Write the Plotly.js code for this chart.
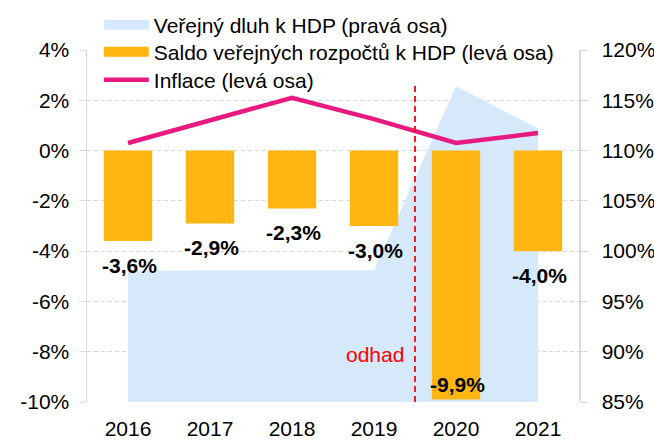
<!DOCTYPE html>
<html>
<head>
<meta charset="utf-8">
<script src="https://cdn.plot.ly/plotly-3.0.1.min.js"></script>
<style>html,body{margin:0;padding:0;background:#fff;}#chart{width:654px;height:440px;}</style>
</head>
<body>
<div id="chart"></div>
<script>
// ---- data ----
const years = ['2016', '2017', '2018', '2019', '2020', '2021'];
const debtToGdp = [98.0, 98.1, 98.1, 98.1, 116.4, 112.2];      // right axis, %
const budgetBalance = [-3.6, -2.9, -2.3, -3.0, -9.9, -4.0];     // left axis, %
const inflation = [0.3, 1.2, 2.1, 1.25, 0.3, 0.7];              // left axis, %
const seriesNames = [
  'Veřejný dluh k HDP (pravá osa)',
  'Saldo veřejných rozpočtů k HDP (levá osa)',
  'Inflace (levá osa)'
];
const leftTickValues = [-10, -8, -6, -4, -2, 0, 2, 4];
const leftTickLabels = ['-10%', '-8%', '-6%', '-4%', '-2%', '0%', '2%', '4%'];
const rightTickValues = [85, 90, 95, 100, 105, 110, 115, 120];
const rightTickLabels = ['85%', '90%', '95%', '100%', '105%', '110%', '115%', '120%'];
const forecastLabel = 'odhad';
const forecastStartIndex = 4; // 2020 is the first estimated year

const FONT = 'Liberation Sans, Arial, sans-serif';
const fmt = v => v.toFixed(1).replace('.', ',') + '%';
const COLORS = {debt: '#d5e9fb', balance: '#ffb612', inflation: '#e8197f'};

const traces = [
  {
    type: 'scatter', mode: 'lines', x: years, y: debtToGdp,
    xaxis: 'x', yaxis: 'y', fill: 'tozeroy',
    fillcolor: COLORS.debt, line: {color: 'rgba(0,0,0,0)', width: 0},
    name: seriesNames[0], showlegend: false
  },
  {
    type: 'bar', x: years, y: budgetBalance, xaxis: 'x', yaxis: 'y2',
    marker: {color: COLORS.balance}, name: seriesNames[1], showlegend: false
  },
  {
    type: 'scatter', mode: 'lines', x: years, y: inflation, xaxis: 'x', yaxis: 'y2',
    line: {color: COLORS.inflation, width: 4.5}, name: seriesNames[2],
    legend: 'legend3'
  },
  // legend keys (no marks in the plot)
  {
    type: 'scatter', mode: 'lines', x: [years[0]], y: [null], xaxis: 'x', yaxis: 'y2',
    line: {color: COLORS.debt, width: 11}, name: seriesNames[0], legend: 'legend'
  },
  {
    type: 'scatter', mode: 'lines', x: [years[0]], y: [null], xaxis: 'x', yaxis: 'y2',
    line: {color: COLORS.balance, width: 10}, name: seriesNames[1], legend: 'legend2'
  }
];

const labelAnnotations = budgetBalance.map((v, i) => ({
  xref: 'x', yref: 'y2', x: i, y: v,
  text: fmt(v), showarrow: false, xanchor: 'center', yanchor: 'middle',
  xshift: 1, yshift: v < -9 ? 15 : -24,
  font: {family: FONT, size: 21, color: '#000', weight: 'bold'}
}));

const boundary = forecastStartIndex - 0.5;
const legendBase = {
  x: 0.024, xanchor: 'left', yanchor: 'middle', yref: 'container',
  bgcolor: 'rgba(0,0,0,0)', font: {family: FONT, size: 21, color: '#000'},
  itemwidth: 45
};

const layout = {
  width: 654, height: 440,
  margin: {l: 87, r: 75, t: 50, b: 38, autoexpand: false},
  paper_bgcolor: '#fff', plot_bgcolor: '#fff',
  font: {family: FONT, size: 21, color: '#000'},
  showlegend: true,
  legend: Object.assign({}, legendBase, {y: 1 - 25 / 440}),
  legend2: Object.assign({}, legendBase, {y: 1 - 52 / 440}),
  legend3: Object.assign({}, legendBase, {y: 1 - 80 / 440}),
  bargap: 0.41,
  xaxis: {
    type: 'category', categoryarray: years, range: [-0.5, 5.5],
    showline: false, ticks: '', showgrid: false, zeroline: false,
    ticklabelstandoff: 12,
    tickfont: {family: FONT, size: 21, color: '#000'}, automargin: false
  },
  xaxis2: {
    overlaying: 'x', anchor: 'free', position: 10 / 14, side: 'bottom',
    type: 'linear', range: [-0.5, 5.5],
    tickmode: 'array', tickvals: [-0.5, 0.5, 1.5, 2.5, 3.5, 4.5, 5.5],
    ticks: 'outside', ticklen: 6, tickwidth: 1.5, tickcolor: '#000',
    showline: true, linecolor: '#000', linewidth: 1.5,
    showticklabels: false, showgrid: false, zeroline: false
  },
  yaxis: {
    side: 'right', range: [85, 120],
    tickmode: 'array', tickvals: rightTickValues, ticktext: rightTickLabels,
    showgrid: true, gridcolor: '#d9d9d9', griddash: '4px,3px', gridwidth: 1,
    showline: true, linecolor: '#d9d9d9', linewidth: 1.5,
    ticks: 'outside', ticklen: 7, tickcolor: '#d9d9d9',
    ticklabelstandoff: 10,
    zeroline: false, automargin: false,
    tickfont: {family: FONT, size: 21, color: '#000'}
  },
  yaxis2: {
    overlaying: 'y', side: 'left', range: [-10, 4],
    tickmode: 'array', tickvals: leftTickValues, ticktext: leftTickLabels,
    showgrid: false, zeroline: false,
    showline: true, linecolor: '#d9d9d9', linewidth: 1.5,
    ticks: 'outside', ticklen: 7, tickcolor: '#d9d9d9', automargin: false,
    ticklabelstandoff: 5,
    tickfont: {family: FONT, size: 21, color: '#000'}
  },
  shapes: [{
    type: 'line', xref: 'x', yref: 'y2', x0: boundary, x1: boundary, y0: -10, y1: 2.68,
    line: {color: '#ee1c25', width: 2, dash: '6px,4px'}, layer: 'above'
  }],
  annotations: labelAnnotations.concat([{
    xref: 'x', yref: 'y2', x: boundary, y: -8.1, xanchor: 'right', yanchor: 'middle',
    xshift: -9, text: forecastLabel, showarrow: false,
    font: {family: FONT, size: 21, color: '#ff0000'}
  }])
};

Plotly.newPlot('chart', traces, layout, {displayModeBar: false, staticPlot: true});
</script>
</body>
</html>
